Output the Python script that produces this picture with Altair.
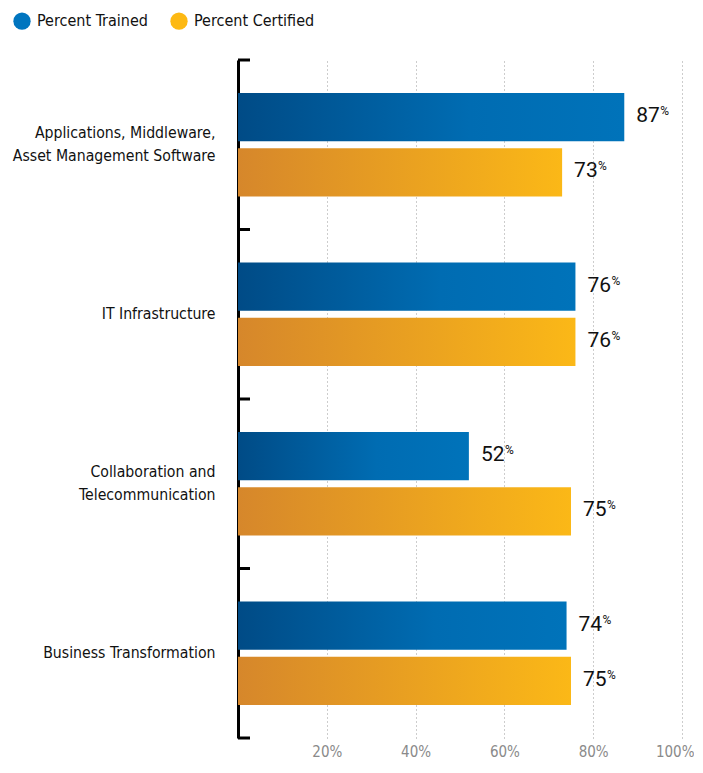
import json
import altair as alt
import pandas as pd

categories = [
    "Applications, Middleware, Asset Management Software",
    "IT Infrastructure",
    "Collaboration and Telecommunication",
    "Business Transformation",
]
label_lines = [
    ["Applications, Middleware,", "Asset Management Software"],
    ["IT Infrastructure"],
    ["Collaboration and", "Telecommunication"],
    ["Business Transformation"],
]
series = ["Percent Trained", "Percent Certified"]
trained = [87, 76, 52, 74]
certified = [73, 76, 75, 75]
x_ticks = [20, 40, 60, 80, 100]

rows = []
for c, t, ce in zip(categories, trained, certified):
    rows.append({"category": c, "series": series[0], "value": t})
    rows.append({"category": c, "series": series[1], "value": ce})
df = pd.DataFrame(rows)
cat_df = pd.DataFrame({"category": categories})

LABEL_FONT = "DejaVu Sans Condensed, sans-serif"
NUM_FONT = "Roboto, Inter, sans-serif"

expr = "''"
for c, lines in reversed(list(zip(categories, label_lines))):
    expr = f"datum.value == {json.dumps(c)} ? {json.dumps(lines)} : {expr}"
multi_test = " || ".join(
    f"datum.value == {json.dumps(c)}" for c, lines in zip(categories, label_lines) if len(lines) > 1
)

y_enc = alt.Y(
    "category:N", sort=categories,
    scale=alt.Scale(paddingInner=0, paddingOuter=0),
    axis=alt.Axis(
        title=None, ticks=False, domain=True, domainColor="#000000", domainWidth=3,
        labelExpr=expr, labelFont=LABEL_FONT, labelFontSize=15.7,
        labelColor="#111111", labelPadding=23, labelLineHeight=23, labelLimit=300,
        labelOffset={"condition": {"test": multi_test, "value": -12}, "value": 0},
    ),
)
yoff = alt.YOffset("series:N", sort=series, scale=alt.Scale(paddingInner=0.127, paddingOuter=0.6))
x_enc = alt.X(
    "value:Q",
    scale=alt.Scale(domain=[0, 100], nice=False),
    axis=alt.Axis(
        title=None, values=x_ticks, domain=False, ticks=False, grid=True,
        gridDash=[1, 3], gridColor="#9a9a9a", gridWidth=1,
        labelExpr="datum.value + '%'", labelFont=LABEL_FONT, labelFontSize=15,
        labelColor="#8a8a8a", labelPadding=6, labelFlush=True, labelFlushOffset=12,
    ),
)

blue_grad = alt.LinearGradient(
    gradient="linear", x1=0, x2=1, y1=0, y2=0,
    stops=[alt.GradientStop(offset=0, color="#004b86"),
           alt.GradientStop(offset=0.6, color="#006cb2"),
           alt.GradientStop(offset=1, color="#0073ba")],
)
orange_grad = alt.LinearGradient(
    gradient="linear", x1=0, x2=1, y1=0, y2=0,
    stops=[alt.GradientStop(offset=0, color="#d6872b"),
           alt.GradientStop(offset=1, color="#fbb817")],
)

base = alt.Chart(df)

bars_t = base.transform_filter(alt.datum.series == series[0]).mark_bar(
    color=blue_grad, cornerRadius=0).encode(x=x_enc, y=y_enc, yOffset=yoff)
bars_c = base.transform_filter(alt.datum.series == series[1]).mark_bar(
    color=orange_grad, cornerRadius=0).encode(x=x_enc, y=y_enc, yOffset=yoff)

legend_layer = base.mark_circle(opacity=0, size=0).encode(
    x=x_enc, y=y_enc, yOffset=yoff,
    color=alt.Color(
        "series:N", sort=series,
        scale=alt.Scale(domain=series, range=["#0075bf", "#fdb913"]),
        legend=alt.Legend(
            title=None, orient="none", direction="horizontal",
            legendX=-225, legendY=-48, symbolType="circle", symbolSize=300,
            symbolOpacity=1, symbolStrokeWidth=0, labelFont=LABEL_FONT,
            labelFontSize=16, labelColor="#111111",
            labelOffset=6, columnPadding=22, padding=0, labelLimit=300,
        ),
    ),
)

nums = base.mark_text(
    align="left", baseline="middle", dx=12, dy=-1, font=NUM_FONT, fontSize=21,
    fontWeight=400, color="#111111",
).encode(x=x_enc, y=y_enc, yOffset=yoff, text=alt.Text("value:Q"))
pct = base.mark_text(
    align="left", baseline="middle", dx=36, dy=-6, font=NUM_FONT, fontSize=12,
    color="#111111",
).encode(x=x_enc, y=y_enc, yOffset=yoff, text=alt.value("%"))

ticks_top = alt.Chart(cat_df).mark_rule(color="#000000", strokeWidth=3).encode(
    y=alt.Y("category:N", sort=categories, bandPosition=0),
    x=alt.value(0), x2=alt.value(12),
)
ticks_bottom = alt.Chart(cat_df).transform_filter(
    alt.datum.category == categories[-1]
).mark_rule(color="#000000", strokeWidth=3).encode(
    y=alt.Y("category:N", sort=categories, bandPosition=1),
    x=alt.value(0), x2=alt.value(12),
)

chart = alt.layer(
    bars_t, bars_c, legend_layer, nums, pct, ticks_top, ticks_bottom
).properties(
    width=444, height=678,
    padding={"left": 4, "top": 4, "right": 0, "bottom": 0},
).configure_view(stroke=None)

chart.save("out.html", embed_options={"renderer": "svg", "actions": False})
